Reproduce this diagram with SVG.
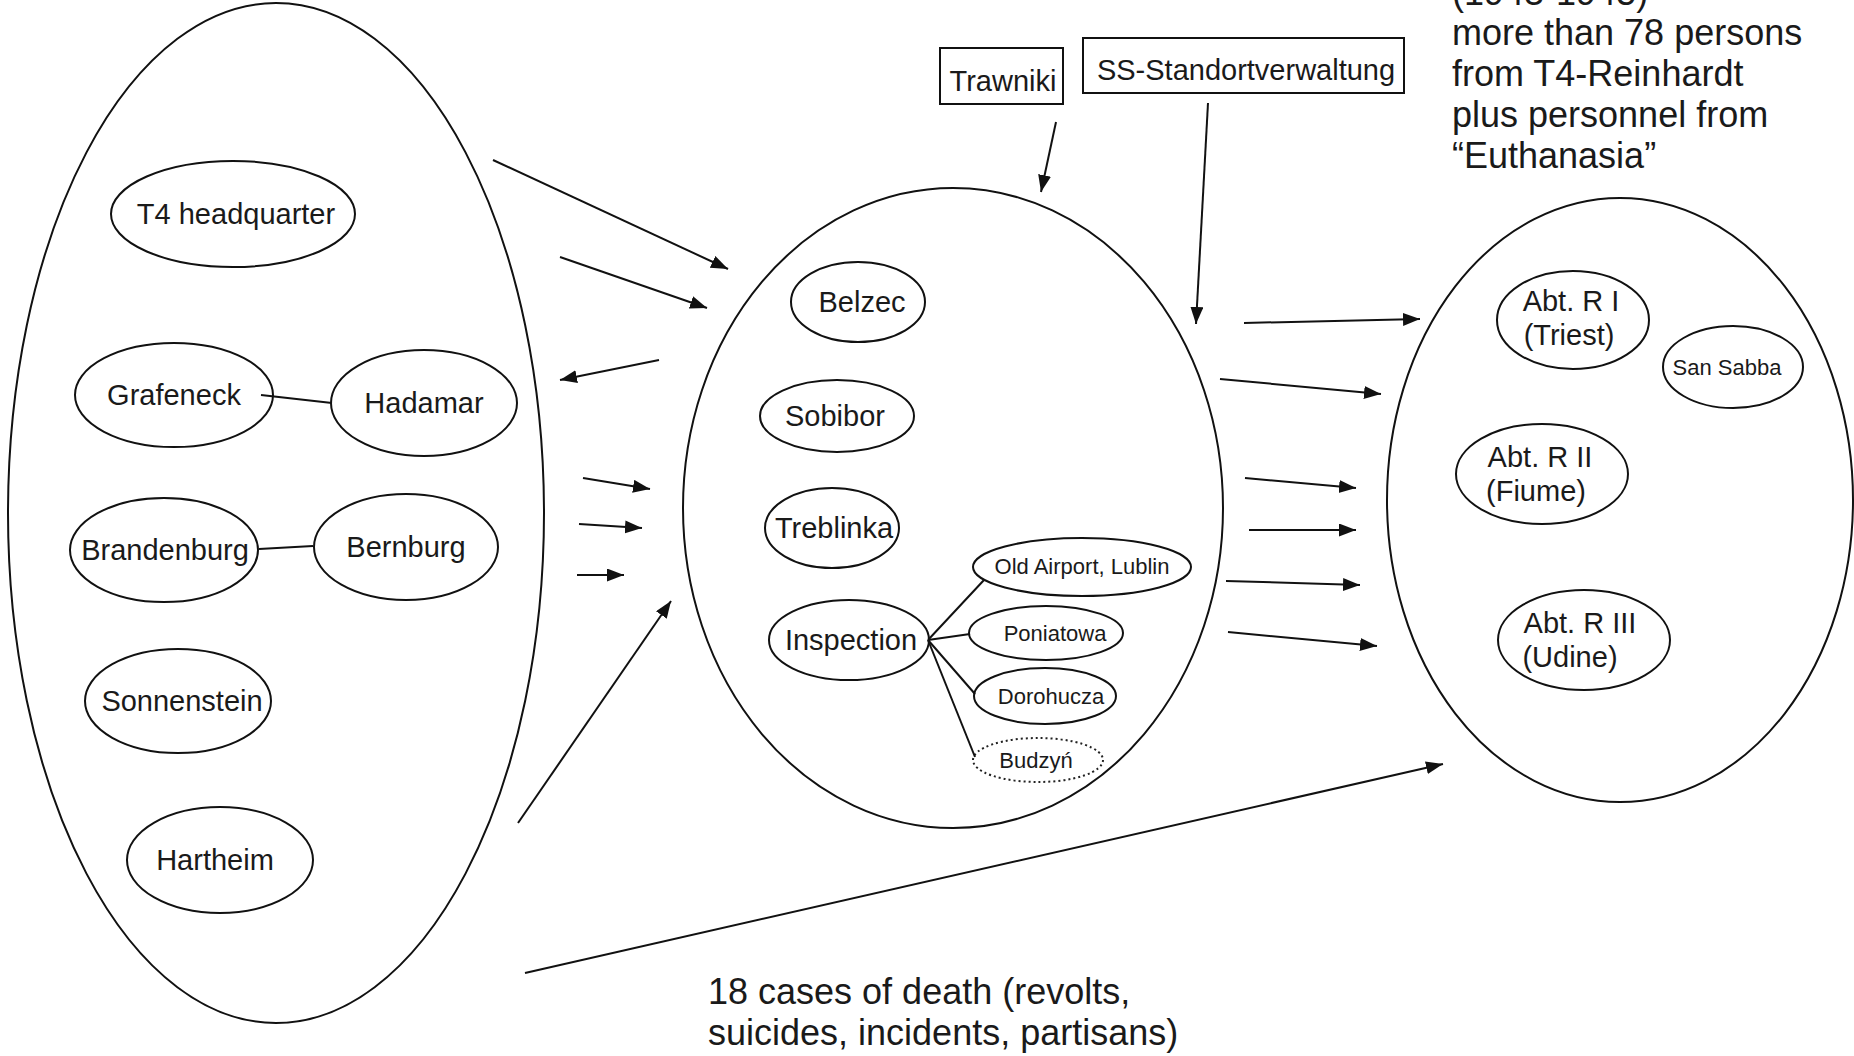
<svg xmlns="http://www.w3.org/2000/svg" width="1854" height="1056" viewBox="0 0 1854 1056">
<defs>
<marker id="ah" markerUnits="userSpaceOnUse" markerWidth="18" markerHeight="14" refX="17" refY="6.5" orient="auto">
<path d="M0,0 L17,6.5 L0,13 z" fill="#111"/>
</marker>
</defs>
<style>
.e{fill:none;stroke:#111;stroke-width:2}
.d{fill:none;stroke:#222;stroke-width:2;stroke-dasharray:2 3}
.t{font-family:"Liberation Sans",Arial,sans-serif;font-size:29px;fill:#1a1a1a;text-anchor:middle}
.s{font-family:"Liberation Sans",Arial,sans-serif;font-size:22px;fill:#1a1a1a;text-anchor:middle}
.b{font-family:"Liberation Sans",Arial,sans-serif;font-size:36px;fill:#1a1a1a}
.l{stroke:#111;stroke-width:2;fill:none}
.a{stroke:#111;stroke-width:2;fill:none;marker-end:url(#ah)}
</style>
<rect width="1854" height="1056" fill="#fff"/>

<g id="group-t4">
<ellipse class="e" cx="276" cy="513" rx="268" ry="510"/>
</g>
<g id="t4-headquarter"><ellipse class="e" cx="233" cy="214" rx="122" ry="53"/><text class="t" x="236" y="224">T4 headquarter</text></g>
<g id="grafeneck"><ellipse class="e" cx="174" cy="395" rx="99" ry="52"/><text class="t" x="174" y="405">Grafeneck</text></g>
<g id="hadamar"><ellipse class="e" cx="424" cy="403" rx="93" ry="53"/><text class="t" x="424" y="413">Hadamar</text></g>
<g id="brandenburg"><ellipse class="e" cx="164" cy="550" rx="94" ry="52"/><text class="t" x="165" y="560">Brandenburg</text></g>
<g id="bernburg"><ellipse class="e" cx="406" cy="547" rx="92" ry="53"/><text class="t" x="406" y="557">Bernburg</text></g>
<g id="sonnenstein"><ellipse class="e" cx="178" cy="701" rx="93" ry="52"/><text class="t" x="182" y="711">Sonnenstein</text></g>
<g id="hartheim"><ellipse class="e" cx="220" cy="860" rx="93" ry="53"/><text class="t" x="215" y="870">Hartheim</text></g>

<g id="group-reinhardt">
<ellipse class="e" cx="953" cy="508" rx="270" ry="320"/>
</g>
<g id="belzec"><ellipse class="e" cx="858" cy="302" rx="67" ry="40"/><text class="t" x="862" y="312">Belzec</text></g>
<g id="sobibor"><ellipse class="e" cx="837" cy="416" rx="77" ry="36"/><text class="t" x="835" y="426">Sobibor</text></g>
<g id="treblinka"><ellipse class="e" cx="832" cy="528" rx="67" ry="40"/><text class="t" x="834" y="538">Treblinka</text></g>
<g id="inspection"><ellipse class="e" cx="849" cy="640" rx="80" ry="40"/><text class="t" x="851" y="650">Inspection</text></g>
<g id="old-airport"><ellipse class="e" cx="1082" cy="567" rx="109" ry="29"/><text class="s" x="1082" y="574">Old Airport, Lublin</text></g>
<g id="poniatowa"><ellipse class="e" cx="1046" cy="633" rx="77" ry="27"/><text class="s" x="1055" y="641">Poniatowa</text></g>
<g id="dorohucza"><ellipse class="e" cx="1045" cy="696" rx="71" ry="28"/><text class="s" x="1051" y="704">Dorohucza</text></g>
<g id="budzyn"><ellipse class="d" cx="1038" cy="760" rx="65" ry="22"/><text class="s" x="1036" y="768">Budzyń</text></g>

<g id="trawniki"><rect class="e" x="940" y="48" width="123" height="56"/><text class="t" x="1003" y="91">Trawniki</text></g>
<g id="ss-standortverwaltung"><rect class="e" x="1083" y="38" width="321" height="55"/><text class="t" x="1246" y="80">SS-Standortverwaltung</text></g>

<g id="group-abt-r">
<ellipse class="e" cx="1620" cy="500" rx="233" ry="302"/>
</g>
<g id="abt-r1"><ellipse class="e" cx="1573" cy="320" rx="76" ry="49"/><text class="t" x="1571" y="311">Abt. R I</text><text class="t" x="1569" y="345">(Triest)</text></g>
<g id="san-sabba"><ellipse class="e" cx="1733" cy="367" rx="70" ry="41"/><text class="s" x="1727" y="375">San Sabba</text></g>
<g id="abt-r2"><ellipse class="e" cx="1542" cy="474" rx="86" ry="50"/><text class="t" x="1540" y="467">Abt. R II</text><text class="t" x="1536" y="501">(Fiume)</text></g>
<g id="abt-r3"><ellipse class="e" cx="1584" cy="640" rx="86" ry="50"/><text class="t" x="1580" y="633">Abt. R III</text><text class="t" x="1570" y="667">(Udine)</text></g>

<g id="connectors">
<line class="l" x1="261" y1="395" x2="332" y2="403"/>
<line class="l" x1="259" y1="549" x2="313" y2="546"/>
<line class="l" x1="928" y1="640" x2="984" y2="580"/>
<line class="l" x1="928" y1="640" x2="970" y2="634"/>
<line class="l" x1="928" y1="640" x2="975" y2="694"/>
<line class="l" x1="928" y1="640" x2="975" y2="757"/>

<line class="a" x1="493" y1="160" x2="728" y2="269"/>
<line class="a" x1="560" y1="257" x2="707" y2="308"/>
<line class="a" x1="659" y1="360" x2="560" y2="380"/>
<line class="a" x1="583" y1="478" x2="650" y2="489"/>
<line class="a" x1="579" y1="524" x2="642" y2="528"/>
<line class="a" x1="577" y1="575" x2="624" y2="575"/>
<line class="a" x1="518" y1="823" x2="671" y2="601"/>

<line class="a" x1="1056" y1="122" x2="1041" y2="192"/>
<line class="a" x1="1208" y1="103" x2="1196" y2="324"/>

<line class="a" x1="1244" y1="323" x2="1420" y2="319"/>
<line class="a" x1="1220" y1="379" x2="1381" y2="394"/>
<line class="a" x1="1245" y1="478" x2="1356" y2="488"/>
<line class="a" x1="1249" y1="530" x2="1356" y2="530"/>
<line class="a" x1="1226" y1="581" x2="1360" y2="585"/>
<line class="a" x1="1228" y1="632" x2="1377" y2="646"/>
<line class="a" x1="525" y1="973" x2="1443" y2="764"/>
</g>

<g id="note-top">
<text class="b" x="1452" y="5">(1943-1945)</text>
<text class="b" x="1452" y="45">more than 78 persons</text>
<text class="b" x="1452" y="86">from T4-Reinhardt</text>
<text class="b" x="1452" y="127">plus personnel from</text>
<text class="b" x="1452" y="168">“Euthanasia”</text>
</g>
<g id="note-bottom">
<text class="b" x="708" y="1004">18 cases of death (revolts,</text>
<text class="b" x="708" y="1045">suicides, incidents, partisans)</text>
</g>
</svg>
